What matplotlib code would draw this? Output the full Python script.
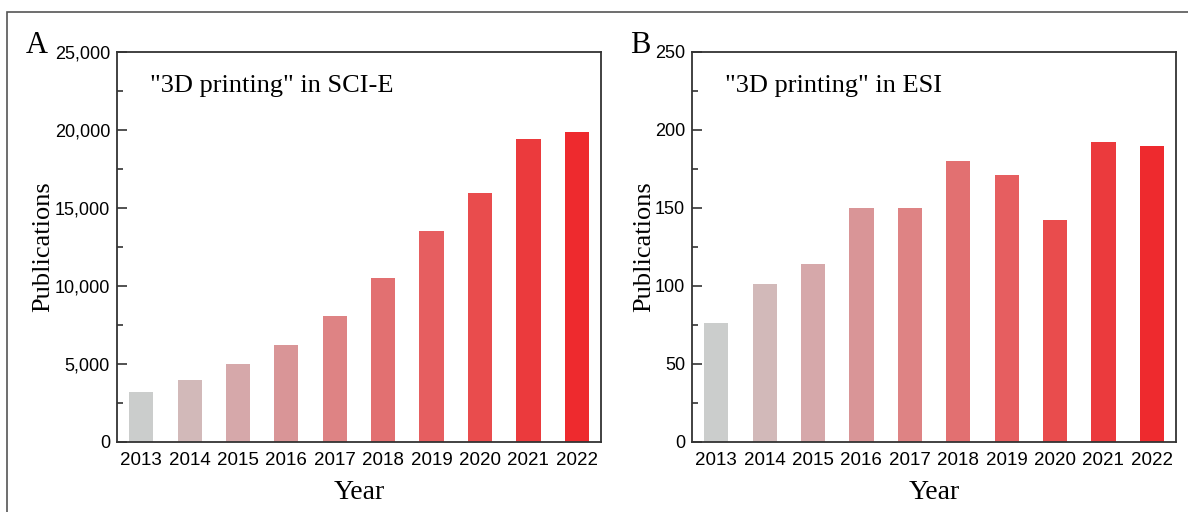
import matplotlib
matplotlib.use("Agg")
import matplotlib.pyplot as plt
from matplotlib.ticker import FuncFormatter, MultipleLocator
from matplotlib.patches import Rectangle

years = ["2013", "2014", "2015", "2016", "2017", "2018", "2019", "2020", "2021", "2022"]
sci_e = [3200, 3950, 5000, 6250, 8100, 10500, 13500, 15950, 19450, 19850]
esi = [76, 101, 114, 150, 150, 180, 171, 142, 192, 190]
bar_colors = ["#cbcdcc", "#d2b9b9", "#d6a8aa", "#d99597", "#de8384",
              "#e27071", "#e65e60", "#e94c4d", "#eb3a3d", "#ee2a2e"]

SERIF = ["Liberation Serif", "DejaVu Serif"]
SANS = ["Liberation Sans", "DejaVu Sans"]

fig = plt.figure(figsize=(11.88, 5.12), dpi=100)

def panel(rect, values, ymax, major, minor, title, letter, letter_x, ylab_x):
    ax = fig.add_axes(rect)
    x = list(range(len(years)))
    ax.bar(x, values, width=0.5, color=bar_colors, edgecolor="none")
    ax.set_xlim(-0.5, len(years) - 0.5)
    ax.set_ylim(0, ymax)
    ax.set_xticks(x)
    ax.set_xticklabels(years, fontfamily=SANS, fontsize=13.5)
    ax.yaxis.set_major_locator(MultipleLocator(major))
    ax.yaxis.set_minor_locator(MultipleLocator(minor))
    ax.yaxis.set_major_formatter(FuncFormatter(lambda v, p: f"{int(v):,}"))
    for lab in ax.get_yticklabels():
        lab.set_fontfamily(SANS)
    ax.tick_params(axis="y", which="major", direction="in", length=7, width=1.2,
                   labelsize=13, pad=5, color="#333333")
    ax.tick_params(axis="y", which="minor", direction="in", length=4, width=1.2,
                   color="#333333")
    ax.tick_params(axis="x", which="both", length=0, pad=7, labelsize=13.5)
    for s in ax.spines.values():
        s.set_linewidth(1.3)
        s.set_color("#333333")
    ax.set_xlabel("Year", fontfamily=SERIF, fontsize=20, labelpad=8)
    ax.set_ylabel("Publications", fontfamily=SERIF, fontsize=19)
    ax.yaxis.set_label_coords(ylab_x, 0.5)
    ax.text(0.068, 0.912, title, transform=ax.transAxes, fontfamily=SERIF,
            fontsize=19, ha="left", va="center")
    fig.text(letter_x, 0.912, letter, fontfamily=SERIF, fontsize=22,
             ha="center", va="center")
    return ax

bottom = 70 / 512
height = 390 / 512
width = 484 / 1188
panel([117 / 1188, bottom, width, height], sci_e, 25000, 5000, 2500,
      '"3D printing" in SCI-E', "A", 37 / 1188, -0.13)
panel([692 / 1188, bottom, width, height], esi, 250, 50, 25,
      '"3D printing" in ESI', "B", 640 / 1188, -0.075)

border = Rectangle((7 / 1188, -0.05), 1.1, (512 - 12) / 512 + 0.05,
                   transform=fig.transFigure, fill=False, edgecolor="#555555",
                   linewidth=1.2, clip_on=False)
fig.patches.append(border)

fig.savefig("out.png", dpi=100)
